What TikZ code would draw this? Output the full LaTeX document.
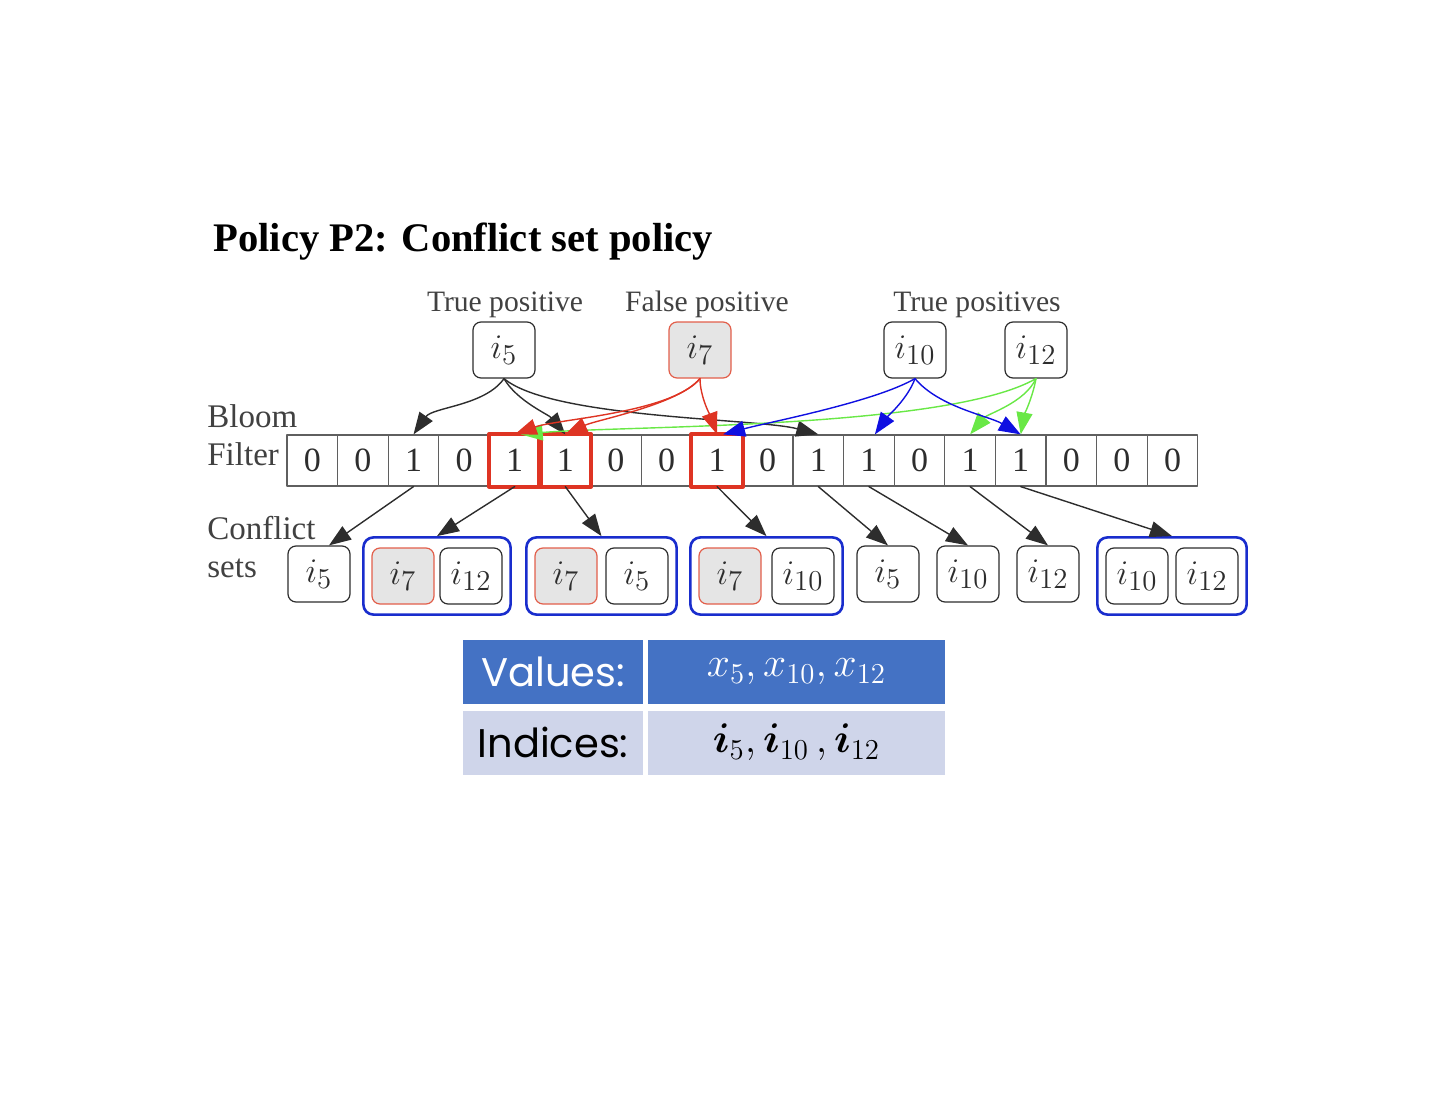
\documentclass[tikz,border=0pt]{standalone}
\usepackage{amsmath,amssymb}
\usepackage{bm}
\usepackage{fontspec}
\setmainfont{Liberation Serif}
\newfontfamily\gothic{Poppins}
\usepackage{tikz}
\usetikzlibrary{arrows.meta,positioning,fit,calc}
\definecolor{cellgray}{RGB}{95,95,95}
\definecolor{hitred}{RGB}{222,52,35}
\definecolor{fpred}{RGB}{226,95,75}
\definecolor{tpblue}{RGB}{15,15,225}
\definecolor{tpgreen}{RGB}{105,232,70}
\definecolor{grpblue}{RGB}{25,45,205}
\definecolor{valblue}{RGB}{68,114,196}
\definecolor{idxblue}{RGB}{207,213,234}
\definecolor{labgray}{RGB}{65,65,65}
\definecolor{arrgray}{RGB}{45,45,45}
\tikzset{%
        cell/.style = { draw=cellgray, line width=0.6pt, minimum width=25.3pt, minimum height=25.5pt, inner sep=0pt, text=arrgray, font=\fontsize{17}{17}\selectfont },
         hit/.style = { draw=hitred, line width=2pt },
        item/.style = { draw=arrgray, rounded corners=4pt, line width=0.6pt, minimum width=31pt, minimum height=28pt, inner sep=0pt, text=arrgray, font=\fontsize{19}{19}\selectfont },
      fpitem/.style = { item, draw=fpred, fill=gray!20 },
         grp/.style = { draw=grpblue, line width=1.3pt, rounded corners=5pt, inner xsep=4pt, inner ysep=5pt },
        head/.style = { text=labgray, anchor=base, inner sep=0pt, font=\fontsize{14.8}{14.8}\selectfont },
        side/.style = { text=labgray, align=left, anchor=west, inner sep=0pt, font=\fontsize{16.5}{19}\selectfont },
        link/.style = { ->, draw=arrgray, line width=0.7pt },
      fplink/.style = { ->, draw=hitred, line width=0.7pt },
      bllink/.style = { ->, draw=tpblue, line width=0.7pt },
      grlink/.style = { ->, draw=tpgreen, line width=0.7pt },
      tabkey/.style = { minimum width=90pt, minimum height=32pt, inner sep=0pt, font=\gothic\fontsize{20}{20}\selectfont },
      tabval/.style = { minimum width=148.5pt, minimum height=32pt, inner sep=0pt, font=\fontsize{20}{20}\selectfont }
}
\begin{document}
\begin{tikzpicture}[x=0.5pt,y=-0.5pt,line cap=round,line join=round,>={Triangle[length=11pt,width=8pt]}]
\useasboundingbox (0,0) rectangle (1442,1102);
\node[anchor=base west, inner sep=0pt, font=\bfseries\fontsize{20.3}{20.3}\selectfont] (title) at (213,251) {Policy P2: Conflict set policy};
% queried items
\node[head] (tp) at (505,311) {True positive};
\node[head] (fp) at (707,311) {False positive};
\node[head] (tps) at (977,311) {True positives};
\node[item] (q5) at (504,350) {$i_5$};
\node[fpitem] (q7) at (700,350) {$i_7$};
\node[item] (q10) at (915,350) {$i_{10}$};
\node[item] (q12) at (1036,350) {$i_{12}$};
% bloom filter
\node[side] (bloom) at (207,435) {Bloom\\Filter};
\foreach \v [count=\k from 0] in {0,0,1,0,1,1,0,0,1,0,1,1,0,1,1,0,0,0}
  \node[cell] (b\k) at ({312.3+50.6*\k},460.5) {\v};
\foreach \k in {4,5,8}
  \draw[hit] (b\k.south west) rectangle (b\k.north east);
% conflict sets
\node[side] (confl) at (207,547) {Conflict\\sets};
\node[item] (s1) at (319,574) {$i_5$};
\node[fpitem] (s2a) at (403,576) {$i_7$};
\node[item] (s2b) at (471,576) {$i_{12}$};
\node[fpitem] (s3a) at (566,576) {$i_7$};
\node[item] (s3b) at (637,576) {$i_5$};
\node[fpitem] (s4a) at (730,576) {$i_7$};
\node[item] (s4b) at (803,576) {$i_{10}$};
\node[item] (s5) at (888,574) {$i_5$};
\node[item] (s6) at (968,574) {$i_{10}$};
\node[item] (s7) at (1048,574) {$i_{12}$};
\node[item] (s8a) at (1137,576) {$i_{10}$};
\node[item] (s8b) at (1207,576) {$i_{12}$};
\node[grp, fit=(s2a)(s2b)] (s2) {};
\node[grp, fit=(s3a)(s3b)] (s3) {};
\node[grp, fit=(s4a)(s4b)] (s4) {};
\node[grp, fit=(s8a)(s8b)] (s8) {};
% hashes of the queried items
\draw[link] (q5.south) to[out=-125,in=55,looseness=0.8] (b2.north);
\draw[link] (q5.south) to[out=-60,in=130,looseness=0.8] (b5.north);
\draw[link] (q5.south) to[out=-40,in=165,looseness=0.5] (b10.north);
\draw[grlink] (q12.south) to[out=-150,in=5,looseness=0.5] ([xshift=3pt]b4.north);
\draw[grlink] (q12.south) to[out=-115,in=50,looseness=0.8] (b13.north);
\draw[grlink] (q12.south) to[out=-100,in=80,looseness=0.8] (b14.north);
\draw[bllink] (q10.south) to[out=-150,in=15,looseness=0.6] ([xshift=3pt]b8.north);
\draw[bllink] (q10.south) to[out=-110,in=55,looseness=0.8] ([xshift=3pt]b11.north);
\draw[bllink] (q10.south) to[out=-50,in=150,looseness=0.8] (b14.north);
\draw[fplink] (q7.south) to[out=-130,in=20,looseness=0.6] (b4.north);
\draw[fplink] (q7.south) to[out=-130,in=25,looseness=0.6] (b5.north);
\draw[fplink] (q7.south) to[out=-90,in=110,looseness=0.8] (b8.north);
% cells to conflict sets
\draw[link] (b2.south) -- ([xshift=5pt]s1.north);
\draw[link] (b4.south) -- (s2.north);
\draw[link] (b5.south) -- (s3.north);
\draw[link] (b8.south) -- (s4.north);
\draw[link] (b10.south) -- (s5.north);
\draw[link] (b11.south) -- (s6.north);
\draw[link] (b13.south) -- (s7.north);
\draw[link] (b14.south) -- (s8.north);
% result table
\node[tabkey, fill=valblue, text=white] (vkey) at (553,672) {Values:};
\node[tabval, fill=valblue, text=white] (vval) at (796.5,672) {$x_5, x_{10}, x_{12}$};
\node[tabkey, fill=idxblue, text=black] (ikey) at (553,742.5) {Indices:};
\node[tabval, fill=idxblue, text=black] (ival) at (796.5,742.5) {$\bm{i}_5, \bm{i}_{10}\,, \bm{i}_{12}$};
\end{tikzpicture}
\end{document}
